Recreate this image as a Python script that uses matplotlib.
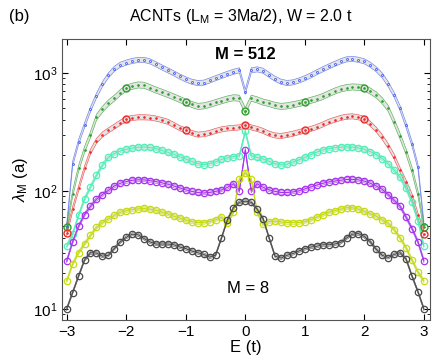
import numpy as np
import matplotlib
matplotlib.use('Agg')
import matplotlib.pyplot as plt

plt.rcParams['font.family'] = ['Liberation Sans', 'DejaVu Sans']
plt.rcParams['mathtext.fontset'] = 'custom'
plt.rcParams['mathtext.rm'] = 'Liberation Sans'
plt.rcParams['mathtext.it'] = 'Liberation Sans:italic'

# energy grid E (t)
energy = np.round(np.arange(-3.0, 3.01, 0.1), 1)

lam_512 = [50, 170, 260, 360, 490, 640, 800, 950, 1080, 1170, 1220, 1260, 1285, 1285, 1250, 1180,
           1110, 1050, 990, 930, 880, 840, 820, 825, 860, 900, 940, 980, 1020, 1050, 690, 1050,
           1070, 1040, 960, 890, 840, 820, 830, 860, 900, 950, 1010, 1070, 1130, 1190, 1250, 1300,
           1310, 1290, 1250, 1170, 1070, 950, 800, 650, 500, 360, 250, 160, 52]
lam_256 = [49, 95, 155, 224, 300, 420, 490, 555, 610, 680, 740, 770, 790, 785, 750, 715,
           685, 655, 625, 595, 565, 540, 520, 525, 540, 560, 580, 600, 615, 610, 478, 610,
           590, 565, 550, 530, 520, 525, 537, 550, 566, 585, 605, 630, 665, 700, 730, 750,
           760, 755, 743, 700, 650, 580, 500, 385, 290, 215, 150, 95, 49]
lam_128 = [44, 70, 105, 155, 215, 265, 300, 325, 350, 378, 405, 415, 420, 420, 418, 410,
           398, 385, 362, 340, 325, 310, 300, 302, 310, 322, 332, 338, 342, 345, 360, 345,
           335, 322, 305, 295, 292, 298, 305, 315, 325, 335, 348, 365, 385, 400, 415, 425,
           428, 420, 407, 370, 330, 285, 240, 195, 150, 118, 90, 62, 43]
lam_64 = [34, 43, 62, 85, 108, 135, 165, 192, 207, 218, 225, 230, 234, 235, 233, 228,
          220, 212, 204, 195, 186, 178, 170, 167, 170, 176, 185, 190, 195, 198, 320, 198,
          192, 186, 178, 170, 166, 168, 175, 183, 192, 203, 213, 222, 228, 232, 234, 236,
          235, 231, 225, 215, 203, 188, 170, 150, 130, 105, 80, 56, 34]
lam_32 = [25.4, 37, 50, 63, 74, 85, 93, 101, 110, 116, 120, 123, 124, 124, 122, 120,
          117, 114, 110, 106, 102, 99, 97, 96, 97, 99, 102, 107, 115, 100, 222, 100,
          115, 107, 102, 99, 97, 97, 98, 100, 104, 108, 112, 116, 119, 121, 123, 125,
          125, 124, 121, 116, 110, 103, 93, 83, 74, 60, 48, 37, 25.5]
lam_16 = [17.3, 24, 30, 35.5, 42, 49, 54, 58, 62, 66, 68, 69.5, 70.5, 71, 70, 68.5,
          66, 64, 61, 59, 56.5, 55, 54, 54, 55, 57, 60, 53, 66, 125, 143, 125,
          66, 52, 55, 55.5, 54.5, 54, 54, 54, 55, 57, 60, 63, 66, 68, 70, 72,
          72, 70, 67, 64, 61, 57, 53, 47, 40, 33, 26, 20.5, 17.3]
lam_8 = [10, 13.8, 19, 26, 30, 29.8, 28, 28.5, 32.5, 37, 40.5, 43, 42.5, 39.5, 37, 35.5,
         35.5, 35.5, 35, 33.5, 32.5, 31, 30, 29, 27.5, 28.5, 40, 57, 72, 80, 82, 80,
         70, 58, 40, 28, 27, 28.5, 29.5, 31, 32.5, 33.5, 34, 35, 35, 35.5, 36.5, 40,
         43, 43.5, 41, 37, 32, 28.5, 27.3, 29, 30, 26.5, 19, 14, 10]

# relative half-width of the grey error band for each M
band_512 = 0.05
band_256 = 0.06
band_128 = 0.05
band_64 = 0.04
band_32 = 0.035
band_16 = 0.035
band_8 = 0.03

curves = [
    (lam_512, band_512, '#4a63f0', 'dots'),
    (lam_256, band_256, '#2ea02e', 'mixed'),
    (lam_128, band_128, '#f02a2a', 'mixed'),
    (lam_64, band_64, '#4ff0b8', 'circles'),
    (lam_32, band_32, '#a733f0', 'circles'),
    (lam_16, band_16, '#c6dc10', 'circles'),
    (lam_8, band_8, '#4a4a4a', 'circles'),
]

fig = plt.figure(figsize=(4.36, 3.6), dpi=100)
ax = fig.add_axes([0.142, 0.111, 0.844, 0.781])

for vals, band, col, style in curves:
    v = np.array(vals, dtype=float)
    ax.fill_between(energy, v * (1 - band), v * (1 + band), facecolor='#e4e4e4',
                    edgecolor='none', zorder=2)
    ax.plot(energy, v * (1 - band), '-', color=col, lw=0.45, alpha=0.8, zorder=2.5)
    ax.plot(energy, v * (1 + band), '-', color=col, lw=0.45, alpha=0.8, zorder=2.5)
    if style == 'dots':
        ax.plot(energy, v, 'o', ms=1.5, mfc='none', mec=col, mew=0.6, zorder=3)
    elif style == 'mixed':
        ax.plot(energy, v, '.', ms=1.8, mec=col, mfc=col, zorder=3)
        sel = np.isclose(energy, np.round(energy))
        ax.plot(energy[sel], v[sel], 'o', ms=5, mfc='none', mec=col, mew=1.0, zorder=4)
    else:
        ax.plot(energy, v, '-', color=col, lw=0.8, marker='o', ms=4.6,
                mfc='none', mec=col, mew=0.9, zorder=3)

ax.set_yscale('log')
ax.set_xlim(-3.08, 3.1)
ax.set_ylim(8.07, 1935)
ax.set_xticks([-3, -2, -1, 0, 1, 2, 3])
ax.set_xticklabels(['\u22123', '\u22122', '\u22121', '0', '1', '2', '3'])
ax.tick_params(which='both', direction='in', top=True, right=True, labelsize=11)
ax.tick_params(which='major', length=4)
ax.tick_params(which='minor', length=2)
for s in ax.spines.values():
    s.set_color('#555555')

ax.set_xlabel('E (t)', fontsize=12, labelpad=1)
ax.set_ylabel('$\\lambda_\\mathrm{M}$ (a)', fontsize=12, labelpad=2)

ax.text(0.0, 1420, 'M = 512', ha='center', va='center', fontsize=12, fontweight='bold')
ax.text(0.05, 14.8, 'M = 8', ha='center', va='center', fontsize=12)

fig.text(0.552, 0.953, 'ACNTs (L$_\\mathrm{M}$ = 3Ma/2), W = 2.0 t', ha='center', va='center', fontsize=11.5)
fig.text(0.02, 0.953, '(b)', ha='left', va='center', fontsize=12)

plt.savefig('out.png', dpi=100)
